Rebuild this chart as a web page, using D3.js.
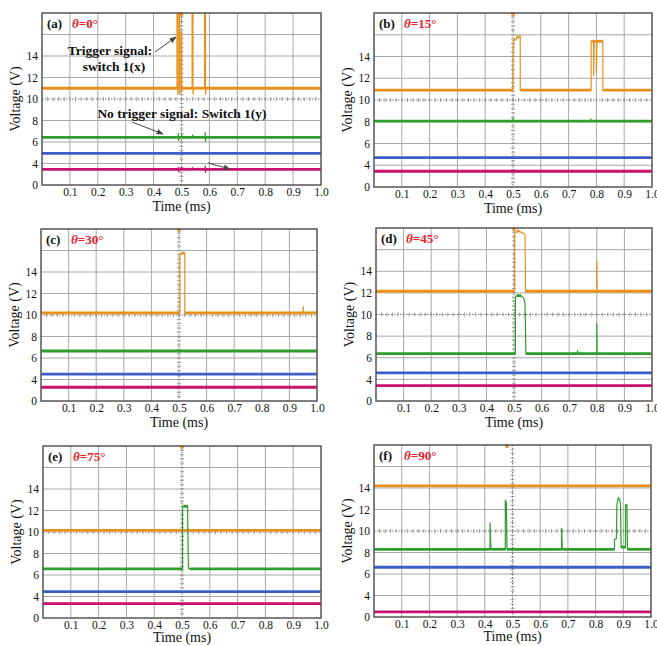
<!DOCTYPE html>
<html><head><meta charset="utf-8">
<script src="https://cdn.jsdelivr.net/npm/d3@7"></script>
<style>body{margin:0;background:#fff}svg{display:block}</style>
</head><body>
<svg id="c" width="657" height="646"></svg>
<script>
// ---------- DATA ----------
const xTickValues = [0.1,0.2,0.3,0.4,0.5,0.6,0.7,0.8,0.9,1.0];
const xTickLabels = ["0.1","0.2","0.3","0.4","0.5","0.6","0.7","0.8","0.9","1.0"];
const yTickValues = [2,4,6,8,10,12,14];
const yTickLabels = ["0","4","6","8","10","12","14"];
const panelLetters = ["(a)","(b)","(c)","(d)","(e)","(f)"];
const thetaValues = ["0","15","30","45","75","90"];
const triggerT = [0.5,0.5,0.5,0.5,0.5,0.48];

// traces: [time (ms), voltage]
const orangeA = [[0,11],[0.484,11],[0.484,18.5],[0.487,18.5],[0.487,10.4],[0.489,11],[0.492,11],[0.492,18.5],[0.494,18.5],[0.494,10.4],[0.496,11],[0.499,11],[0.499,16.2],[0.501,16.2],[0.501,11],[0.538,11],[0.538,18.5],[0.541,18.5],[0.541,10.4],[0.543,11],[0.583,11],[0.583,18.5],[0.586,18.5],[0.586,10.4],[0.588,11],[1,11]];
const greenA = [[0,6.43],[0.488,6.43],[0.488,6.8],[0.49,6.1],[0.491,6.43],[0.5,6.43],[0.5,6.8],[0.501,6.43],[0.54,6.43],[0.54,6.7],[0.541,6.43],[0.585,6.43],[0.585,6.9],[0.586,6.0],[0.587,6.43],[1,6.43]];
const blueA = [[0,4.95],[1,4.95]];
const magentaA = [[0,3.46],[0.488,3.46],[0.488,3.7],[0.49,3.2],[0.491,3.46],[0.5,3.46],[0.5,3.7],[0.501,3.46],[0.54,3.46],[0.54,3.65],[0.541,3.46],[0.585,3.46],[0.585,3.8],[0.586,3.15],[0.587,3.46],[1,3.46]];

const orangeB = [[0,10.9],[0.499,10.9],[0.499,12.2],[0.501,15.2],[0.505,15.6],[0.51,15.5],[0.515,15.9],[0.52,15.7],[0.523,15.9],[0.526,15.9],[0.526,10.9],[0.781,10.9],[0.781,15.4],[0.79,15.4],[0.79,12.2],[0.792,15.4],[0.8,15.4],[0.8,12.5],[0.802,15.4],[0.823,15.4],[0.823,10.9],[1,10.9]];
const greenB = [[0,8.05],[0.5,8.05],[0.5,8.35],[0.501,8.05],[0.78,8.05],[0.78,8.3],[0.781,8.05],[1,8.05]];
const blueB = [[0,4.7],[1,4.7]];
const magentaB = [[0,3.45],[1,3.45]];

const orangeC = [[0,10.2],[0.503,10.2],[0.503,15.6],[0.508,15.75],[0.521,15.75],[0.521,10.2],[0.95,10.2],[0.95,10.8],[0.951,10.2],[1,10.2]];
const greenC = [[0,6.65],[1,6.65]];
const blueC = [[0,4.5],[1,4.5]];
const magentaC = [[0,3.28],[1,3.28]];

const orangeD = [[0,12.15],[0.502,12.15],[0.502,17.4],[0.51,17.7],[0.52,17.7],[0.53,17.55],[0.54,17.4],[0.542,12.15],[0.8,12.15],[0.8,15],[0.801,12.15],[1,12.15]];
const greenD = [[0,6.38],[0.505,6.38],[0.505,11.5],[0.51,11.75],[0.525,11.75],[0.535,11.5],[0.54,11],[0.543,6.38],[0.73,6.38],[0.73,6.7],[0.731,6.38],[0.8,6.38],[0.8,9.2],[0.801,6.38],[1,6.38]];
const blueD = [[0,4.6],[1,4.6]];
const magentaD = [[0,3.42],[1,3.42]];

const orangeE = [[0,10.15],[1,10.15]];
const greenE = [[0,6.57],[0.502,6.57],[0.502,12.3],[0.505,12.4],[0.52,12.4],[0.523,6.6],[0.528,6.57],[1,6.57]];
const blueE = [[0,4.45],[1,4.45]];
const magentaE = [[0,3.33],[1,3.33]];

const orangeF = [[0,14.2],[1,14.2]];
const greenF = [[0,8.3],[0.419,8.3],[0.419,10.8],[0.422,8.3],[0.474,8.3],[0.474,12.9],[0.478,12.6],[0.48,8.3],[0.677,8.3],[0.677,10.3],[0.68,8.3],[0.868,8.3],[0.868,9.2],[0.875,9.3],[0.877,12.5],[0.882,13.1],[0.887,12.9],[0.89,12.5],[0.892,8.5],[0.908,8.5],[0.908,12.4],[0.913,12.4],[0.915,8.3],[1,8.3]];
const blueF = [[0,6.63],[1,6.63]];
const magentaF = [[0,2.47],[1,2.47]];

const panelTraces = [
  [orangeA, greenA, blueA, magentaA],
  [orangeB, greenB, blueB, magentaB],
  [orangeC, greenC, blueC, magentaC],
  [orangeD, greenD, blueD, magentaD],
  [orangeE, greenE, blueE, magentaE],
  [orangeF, greenF, blueF, magentaF]
];

// ---------- LAYOUT / STYLE ----------
const traceColors = ["#E8901C","#2F9E2C","#3B5EC9","#C9106C"];
const layout = [
  {x0:42, x1:321, y0:13, y1:185},
  {x0:374, x1:652, y0:13, y1:187},
  {x0:41, x1:317, y0:229, y1:401},
  {x0:376, x1:652, y0:228, y1:401},
  {x0:43, x1:321, y0:446, y1:618},
  {x0:374, x1:651, y0:445, y1:617}
];
const serif = "'Liberation Serif','DejaVu Serif',serif";
const svg = d3.select("#c");
const defs = svg.append("defs");
defs.append("marker").attr("id","arr").attr("viewBox","0 0 10 10").attr("refX",9).attr("refY",5)
  .attr("markerWidth",7).attr("markerHeight",7).attr("orient","auto")
  .append("path").attr("d","M0,1 L10,5 L0,9 Z").attr("fill","#444");

layout.forEach((L, pi) => {
  const x = d3.scaleLinear().domain([0,1]).range([L.x0, L.x1]);
  const y = d3.scaleLinear().domain([2,18]).range([L.y1, L.y0]);
  const g = svg.append("g");
  defs.append("clipPath").attr("id","clip"+pi).append("rect")
    .attr("x",L.x0).attr("y",L.y0).attr("width",L.x1-L.x0).attr("height",L.y1-L.y0);

  g.append("rect").attr("x",L.x0).attr("y",L.y0).attr("width",L.x1-L.x0).attr("height",L.y1-L.y0).attr("fill","#fff");
  // grid
  const gx = d3.range(1,10).map(i=>i/10).filter(v=>v!==0.5);
  const gy = d3.range(4,18,2).filter(v=>v!==10);
  g.selectAll(".gx").data(gx).join("line").attr("x1",d=>x(d)).attr("x2",d=>x(d)).attr("y1",L.y0).attr("y2",L.y1)
    .attr("stroke","#a8a8a8").attr("stroke-width",1);
  g.selectAll(".gy").data(gy).join("line").attr("y1",d=>y(d)).attr("y2",d=>y(d)).attr("x1",L.x0).attr("x2",L.x1)
    .attr("stroke","#a8a8a8").attr("stroke-width",1);
  // center cross, dotted with minor ticks
  g.append("line").attr("x1",x(0.5)).attr("x2",x(0.5)).attr("y1",L.y0).attr("y2",L.y1)
    .attr("stroke","#777").attr("stroke-width",1).attr("stroke-dasharray","1.5,1.5");
  g.append("line").attr("y1",y(10)).attr("y2",y(10)).attr("x1",L.x0).attr("x2",L.x1)
    .attr("stroke","#777").attr("stroke-width",1).attr("stroke-dasharray","1.5,1.5");
  g.selectAll(".mx").data(d3.range(1,50).map(i=>i/50)).join("line")
    .attr("x1",d=>x(d)).attr("x2",d=>x(d)).attr("y1",y(10)-2).attr("y2",y(10)+2).attr("stroke","#888").attr("stroke-width",0.8);
  g.selectAll(".my").data(d3.range(1,40).map(i=>2+i*0.4)).join("line")
    .attr("y1",d=>y(d)).attr("y2",d=>y(d)).attr("x1",x(0.5)-2).attr("x2",x(0.5)+2).attr("stroke","#888").attr("stroke-width",0.8);

  // traces
  const tg = g.append("g").attr("clip-path",`url(#clip${pi})`);
  const line = d3.line().x(d=>x(d[0])).y(d=>y(d[1]));
  panelTraces[pi].forEach((pts, ti) => {
    const col = traceColors[ti];
    tg.append("path").attr("d", line(pts)).attr("fill","none").attr("stroke",col).attr("stroke-width",1.2);
    const segs = [];
    for (let i=0;i<pts.length-1;i++) if (pts[i][1]===pts[i+1][1] && pts[i+1][0]-pts[i][0]>0.004) segs.push([pts[i],pts[i+1]]);
    tg.selectAll(null).data(segs).join("line")
      .attr("x1",d=>x(d[0][0])).attr("x2",d=>x(d[1][0])).attr("y1",d=>y(d[0][1])).attr("y2",d=>y(d[1][1]))
      .attr("stroke",col).attr("stroke-width",2.8);
  });
  // trigger marker
  g.append("circle").attr("cx",x(triggerT[pi])).attr("cy",L.y0+1).attr("r",2).attr("fill","#E8901C");

  // border
  g.append("rect").attr("x",L.x0).attr("y",L.y0).attr("width",L.x1-L.x0).attr("height",L.y1-L.y0)
    .attr("fill","none").attr("stroke","#555").attr("stroke-width",1.5);

  // axes
  const ay = g.append("g").attr("transform",`translate(${L.x0},0)`)
    .call(d3.axisLeft(y).tickValues(yTickValues).tickFormat((d,i)=>yTickLabels[i]).tickSize(0).tickPadding(4));
  const ax = g.append("g").attr("transform",`translate(0,${L.y1})`)
    .call(d3.axisBottom(x).tickValues(xTickValues).tickFormat((d,i)=>xTickLabels[i]).tickSize(0).tickPadding(3));
  [ax, ay].forEach(a => {
    a.select(".domain").remove();
    a.selectAll("text").attr("font-family",serif).attr("font-size",11.5).attr("fill","#111");
  });
  g.append("text").attr("x",(L.x0+L.x1)/2).attr("y",L.y1+(pi>=4?24:26)).attr("text-anchor","middle")
    .attr("font-family",serif).attr("font-size",14).attr("fill","#111").text("Time (ms)");
  g.append("text").attr("transform",`translate(${L.x0-22},${(L.y0+L.y1)/2}) rotate(-90)`).attr("text-anchor","middle")
    .attr("font-family",serif).attr("font-size",14).attr("fill","#111").text("Voltage (V)");

  // panel label
  g.append("text").attr("x",L.x0+5).attr("y",L.y0+15).attr("font-family",serif).attr("font-size",13)
    .attr("font-weight","bold").attr("fill","#111").text(panelLetters[pi]);
  const th = g.append("text").attr("x",L.x0+30).attr("y",L.y0+15).attr("font-family",serif).attr("font-size",13)
    .attr("font-weight","bold").attr("fill","#E8202A");
  th.append("tspan").attr("font-style","italic").text("θ");
  th.append("tspan").text("=" + thetaValues[pi] + "°");
});

// annotations on panel (a)
const ann = svg.append("g").attr("font-family",serif).attr("font-weight","bold").attr("font-size",13.5).attr("fill","#111");
ann.append("text").attr("x",110).attr("y",55).attr("text-anchor","middle").text("Trigger signal:");
ann.append("text").attr("x",114).attr("y",71).attr("text-anchor","middle").text("switch 1(x)");
ann.append("text").attr("x",182).attr("y",118).attr("text-anchor","middle").text("No trigger signal: Switch 1(y)");
const arrows = [[155,52,176,37],[132,122,163,134],[208,163,230,169]];
svg.selectAll(".arrow").data(arrows).join("line")
  .attr("x1",d=>d[0]).attr("y1",d=>d[1]).attr("x2",d=>d[2]).attr("y2",d=>d[3])
  .attr("stroke","#444").attr("stroke-width",1).attr("marker-end","url(#arr)");
</script>
</body></html>
